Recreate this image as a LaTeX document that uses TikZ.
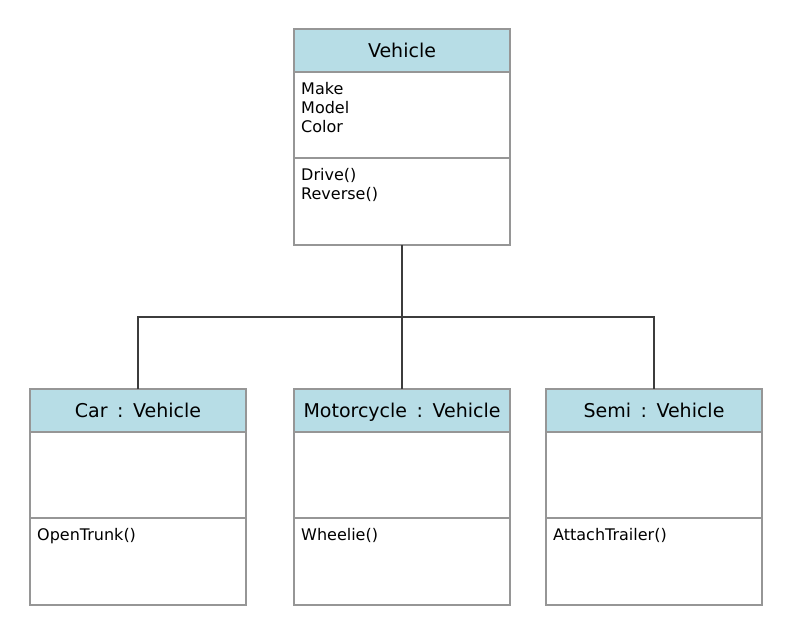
\documentclass[tikz,border=0pt]{standalone}
\usepackage{fontspec}
\setmainfont{DejaVu Sans}
\usetikzlibrary{positioning,calc}

\definecolor{headblue}{RGB}{183,221,230}
\definecolor{boxline}{RGB}{150,150,150}
\definecolor{linkgray}{RGB}{60,60,60}

\newcommand{\ofclass}{\hspace{9.5pt}:\hspace{9.5pt}}

\tikzset{
  head/.style={draw=boxline, fill=headblue, line width=1.5pt, minimum width=216pt,
    minimum height=43pt, inner sep=0pt, outer sep=0pt, text height=16pt, text depth=2pt,
    font=\fontsize{19}{23}\selectfont},
  part/.style={draw=boxline, fill=white, line width=1.5pt, minimum width=216pt,
    minimum height=86pt, inner sep=0pt, outer sep=0pt},
  member/.style={anchor=north west, align=left, inner sep=0pt,
    font=\fontsize{16}{19}\selectfont},
  link/.style={draw=linkgray, line width=1.5pt}
}

\begin{document}
\begin{tikzpicture}[x=1pt, y=-1pt, node distance=0pt]

    \useasboundingbox (0,0) rectangle (796,625);

    % base class
    \node[head] (veh) at (402,50.5) {Vehicle};
    \node[part] (vattr) [below=of veh] {};
    \node[part, minimum height=87pt] (vmeth) [below=of vattr] {};
    \node[member] (vattrtxt) at ([shift={(7,10.5)}]vattr.north west) {Make\\Model\\Color};
    \node[member] (vmethtxt) at ([shift={(7,10.5)}]vmeth.north west) {Drive()\\Reverse()};

    % derived classes
    \node[head] (car) at (138,410.5) {Car\ofclass Vehicle};
    \node[part] (cattr) [below=of car] {};
    \node[part, minimum height=87pt] (cmeth) [below=of cattr] {};
    \node[member] (cmethtxt) at ([shift={(7,10.5)}]cmeth.north west) {OpenTrunk()};

    \node[head] (moto) at (402,410.5) {Motorcycle\ofclass Vehicle};
    \node[part] (mattr) [below=of moto] {};
    \node[part, minimum height=87pt] (mmeth) [below=of mattr] {};
    \node[member] (mmethtxt) at ([shift={(7,10.5)}]mmeth.north west) {Wheelie()};

    \node[head] (semi) at (654,410.5) {Semi\ofclass Vehicle};
    \node[part] (sattr) [below=of semi] {};
    \node[part, minimum height=87pt] (smeth) [below=of sattr] {};
    \node[member] (smethtxt) at ([shift={(7,10.5)}]smeth.north west) {AttachTrailer()};

    % inheritance lines
    \coordinate (split) at (402,317);
    \draw[link] (vmeth.south) -- (moto.north);
    \draw[link] (car.north) |- (split) -| (semi.north);

\end{tikzpicture}
\end{document}
